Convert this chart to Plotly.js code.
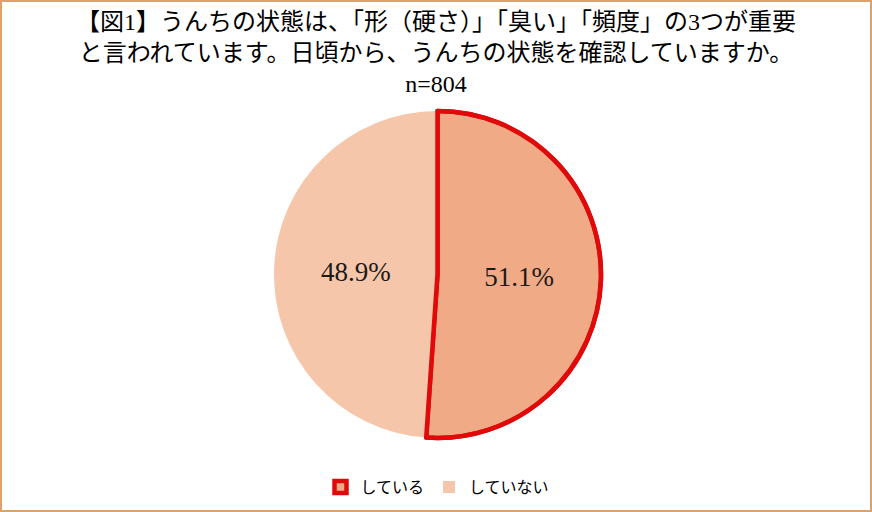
<!DOCTYPE html>
<html>
<head>
<meta charset="utf-8">
<script src="https://cdn.plot.ly/plotly-3.0.1.min.js"></script>
<style>
html,body{margin:0;padding:0;background:#fff;}
#chart{width:868px;height:508px;border:2px solid #DDA26C;}
</style>
</head>
<body>
<div id="chart"></div>
<script>
const labels = ["している", "していない"];
const values = [51.1, 48.9];
const colors = ["#F1AA86", "#F6C6AB"];
const titleText = "【図1】うんちの状態は、「形（硬さ）」「臭い」「頻度」の3つが重要<br>と言われています。日頃から、うんちの状態を確認していますか。<br>n=804";
const FONT = "'Liberation Serif', 'Noto Sans CJK JP', serif";

const base = {
  type: "pie",
  labels: labels,
  values: values,
  sort: false,
  direction: "clockwise",
  rotation: 0
};

const data = [
  Object.assign({}, base, {
    marker: {
      colors: colors,
      line: { color: ["#E00A0A", "rgba(0,0,0,0)"], width: [4.5, 0] }
    },
    texttemplate: "%{value:.1f}%",
    textposition: "inside",
    insidetextfont: { family: FONT, size: 27, color: "#1a1a1a" }
  }),
  Object.assign({}, base, {
    marker: {
      colors: ["rgba(0,0,0,0)", "rgba(0,0,0,0)"],
      line: { color: ["#E00A0A", "rgba(0,0,0,0)"], width: [4.5, 0] }
    },
    textinfo: "none",
    showlegend: false
  })
];

const layout = {
  width: 868,
  height: 508,
  paper_bgcolor: "#ffffff",
  margin: { l: 3, r: 0, t: 109, b: 72 },
  title: {
    text: titleText,
    font: { family: FONT, size: 24, color: "#000" },
    x: 0.5, xanchor: "center",
    y: 0.945, yanchor: "top", yref: "container"
  },
  showlegend: true,
  legend: {
    orientation: "h",
    x: 0.5, xanchor: "center",
    y: -0.15, yanchor: "middle",
    font: { family: FONT, size: 16, color: "#000" },
    traceorder: "normal"
  }
};

Plotly.newPlot("chart", data, layout, { displayModeBar: false, staticPlot: true });
</script>
</body>
</html>
